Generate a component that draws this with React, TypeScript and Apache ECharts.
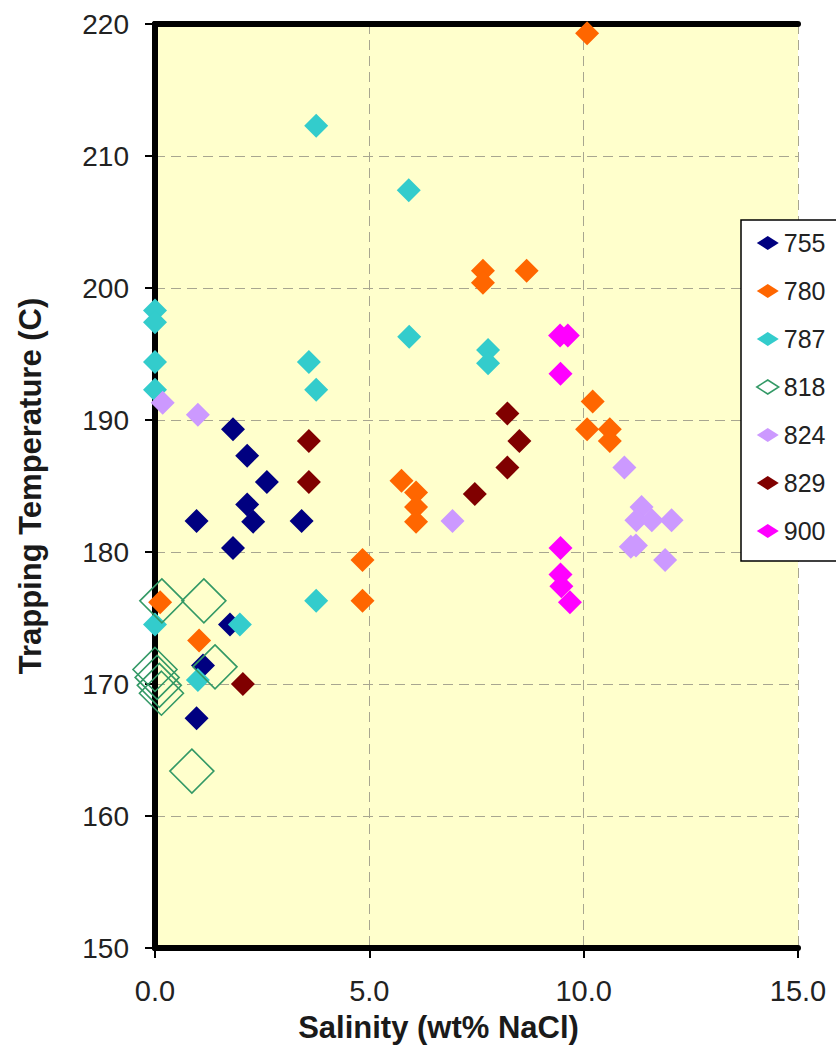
import React, { useEffect, useRef } from "react";
import * as echarts from "echarts";

const seriesNames = ["755", "780", "787", "818", "824", "829", "900"];
const seriesColors = ["#000080", "#FF6600", "#33CCCC", "#339966", "#CC99FF", "#800000", "#FF00FF"];

const xTicks = [0, 5, 10, 15];
const yTicks = [150, 160, 170, 180, 190, 200, 210, 220];

const s755: number[][] = [
  [1.82, 189.3], [2.15, 187.3], [2.61, 185.3], [2.15, 183.6], [2.29, 182.3],
  [0.97, 182.35], [3.42, 182.35], [1.82, 180.3], [1.75, 174.5], [1.12, 171.4], [0.97, 167.4],
];
const s780: number[][] = [
  [10.08, 219.3], [7.65, 201.3], [7.65, 200.4], [8.67, 201.3], [5.75, 185.4],
  [6.09, 184.5], [6.09, 183.4], [6.09, 182.3], [4.84, 179.4], [4.84, 176.3],
  [0.12, 176.2], [1.03, 173.3], [10.21, 191.4], [10.08, 189.3], [10.61, 189.3], [10.61, 188.4],
];
const s787: number[][] = [
  [3.76, 212.3], [5.92, 207.4], [0, 198.3], [0, 197.4], [5.93, 196.3],
  [7.77, 195.3], [7.77, 194.3], [0, 194.4], [0, 192.3], [3.59, 194.4],
  [3.76, 192.3], [3.76, 176.3], [0, 174.5], [1.98, 174.5], [1.0, 170.3],
];
const s818: number[][] = [
  [0.16, 176.3], [1.14, 176.3], [1.4, 171.3], [0, 171.1], [0.05, 170.5],
  [0.1, 169.9], [0.15, 169.3], [0.86, 163.4],
];
const s824: number[][] = [
  [0.18, 191.3], [1.0, 190.4], [6.94, 182.35], [10.95, 186.4], [11.35, 183.4],
  [11.23, 182.4], [11.59, 182.4], [12.05, 182.4], [11.1, 180.4], [11.22, 180.5], [11.9, 179.4],
];
const s829: number[][] = [
  [3.59, 188.4], [3.59, 185.3], [7.46, 184.4], [8.22, 190.5], [8.5, 188.4], [8.22, 186.4], [2.05, 170.0],
];
const s900: number[][] = [
  [9.45, 196.4], [9.63, 196.4], [9.46, 193.5], [9.46, 180.3], [9.46, 178.3], [9.48, 177.4], [9.68, 176.2],
];

const allData = [s755, s780, s787, s818, s824, s829, s900];

const FONT = "'Liberation Sans', Arial, Helvetica, sans-serif";

export default function App() {
  const ref = useRef<HTMLDivElement>(null);
  useEffect(() => {
    if (!ref.current) return;
    const chart = echarts.init(ref.current, null, { renderer: "svg" });
    const series = seriesNames.map((name, i) => {
      const hollow = name === "818";
      return {
        name,
        type: "scatter",
        data: allData[i],
        symbol: "diamond",
        symbolSize: hollow ? 44 : 24,
        itemStyle: hollow
          ? { color: "rgba(0,0,0,0)", borderColor: seriesColors[i], borderWidth: 1.6, opacity: 1 }
          : { color: seriesColors[i], opacity: 1 },
        emphasis: { disabled: true },
      };
    });
    const frameAxis = {
      type: "value",
      axisLine: { show: true, lineStyle: { color: "#000", width: 6 } },
      axisTick: { show: false },
      axisLabel: { show: false },
      splitLine: { show: false },
    };
    chart.setOption({
      animation: false,
      backgroundColor: "#ffffff",
      grid: {
        left: 155,
        right: 38,
        top: 24,
        bottom: 107,
        show: true,
        backgroundColor: "#FFFFCC",
        borderWidth: 0,
        containLabel: false,
      },
      legend: {
        orient: "vertical",
        left: 741,
        top: 220,
        z: 10,
        data: seriesNames.map((n, i) =>
          n === "818"
            ? { name: n, itemStyle: { color: "#ffffff", borderColor: seriesColors[i], borderWidth: 1.5 } }
            : { name: n }
        ),
        icon: "diamond",
        itemWidth: 22,
        itemHeight: 14,
        itemGap: 22,
        padding: [10, 20, 17, 15],
        backgroundColor: "#ffffff",
        borderColor: "#000",
        borderWidth: 1.5,
        borderRadius: 0,
        textStyle: { fontSize: 25, lineHeight: 26, color: "#222", fontFamily: FONT },
      },
      xAxis: [
        {
          type: "value",
          min: xTicks[0],
          max: xTicks[xTicks.length - 1],
          interval: 5,
          name: "Salinity (wt% NaCl)",
          nameLocation: "middle",
          nameGap: 64,
          nameTextStyle: {
            fontSize: 31,
            fontWeight: "bold",
            color: "#1a1a1a",
            fontFamily: FONT,
            padding: [0, 76, 0, 0],
          },
          axisLine: { show: true, lineStyle: { color: "#000", width: 6 } },
          axisTick: { show: true, length: 10, lineStyle: { color: "#000", width: 2 } },
          axisLabel: {
            fontSize: 29,
            color: "#222",
            fontFamily: FONT,
            margin: 28,
            formatter: (v: number) => v.toFixed(1),
          },
          splitLine: { show: true, lineStyle: { type: [10, 6], color: "#A8A690", width: 1 } },
        },
        { ...frameAxis, position: "top", min: xTicks[0], max: xTicks[xTicks.length - 1] },
      ],
      yAxis: [
        {
          type: "value",
          min: yTicks[0],
          max: yTicks[yTicks.length - 1],
          interval: 10,
          name: "Trapping Temperature (C)",
          nameLocation: "middle",
          nameGap: 109,
          nameTextStyle: { fontSize: 31, fontWeight: "bold", color: "#1a1a1a", fontFamily: FONT },
          axisLine: { show: true, lineStyle: { color: "#000", width: 6 } },
          axisTick: { show: true, length: 10, lineStyle: { color: "#000", width: 2 } },
          axisLabel: { fontSize: 28, color: "#222", fontFamily: FONT, margin: 26 },
          splitLine: { show: true, lineStyle: { type: [10, 6], color: "#A8A690", width: 1 } },
        },
        { ...frameAxis, position: "right", min: yTicks[0], max: yTicks[yTicks.length - 1] },
      ],
      series,
    });
    return () => chart.dispose();
  }, []);
  return (
    <div
      ref={ref}
      style={{ position: "fixed", left: 0, top: 0, width: 836, height: 1055, background: "#fff" }}
    />
  );
}
